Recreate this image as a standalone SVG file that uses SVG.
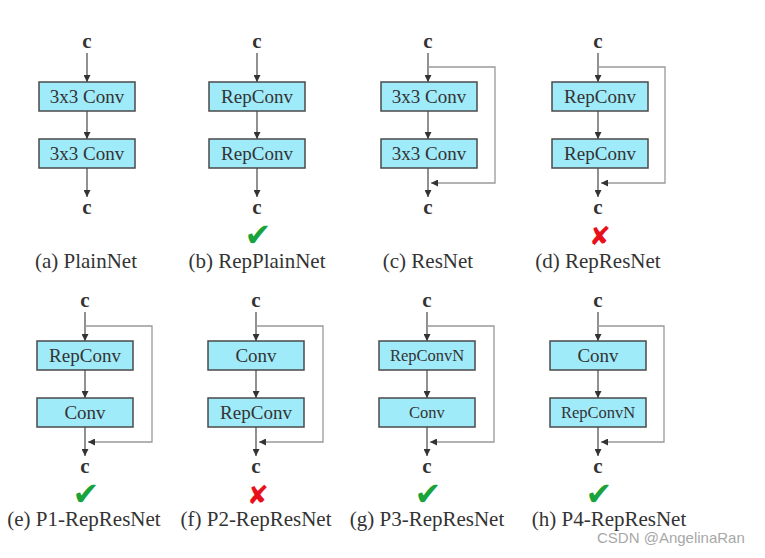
<svg xmlns="http://www.w3.org/2000/svg" width="765" height="558" viewBox="0 0 765 558">
<defs>
<style>
.bg{fill:#fff}
.box{fill:#a0ebfa;stroke:#4a4a4a;stroke-width:1.5}
.bt{font-family:"Liberation Serif","Times New Roman",serif;font-size:19px;fill:#333;text-anchor:middle}
.bs{font-size:16.5px}
.c{font-family:"Liberation Serif","Times New Roman",serif;font-size:21px;font-weight:bold;fill:#333;text-anchor:middle}
.lab{font-family:"Liberation Serif","Times New Roman",serif;font-size:21px;fill:#333;text-anchor:middle}
.ok{font-family:"DejaVu Sans",sans-serif;font-size:32px;fill:#1aa33a;text-anchor:middle}
.no{font-family:"DejaVu Sans",sans-serif;font-size:26px;fill:#e8101a;text-anchor:middle}
.m{fill:none;stroke:#555;stroke-width:1.3}
.s{fill:none;stroke:#999;stroke-width:1.3}
.wm{font-family:"Liberation Sans",Arial,sans-serif;font-size:15px;fill:#a8a8a8}
</style>
<marker id="ah" viewBox="0 0 8 8" refX="8" refY="4" markerWidth="7" markerHeight="7" markerUnits="userSpaceOnUse" orient="auto">
<path d="M0,0 L8,4 L0,8 z" fill="#333"/>
</marker>
</defs>
<rect class="bg" width="765" height="558"/>

<g id="connectors">
<line class="m" x1="87" y1="53" x2="87" y2="82" marker-end="url(#ah)"/>
<line class="m" x1="87" y1="111" x2="87" y2="139" marker-end="url(#ah)"/>
<line class="m" x1="87" y1="168" x2="87" y2="197" marker-end="url(#ah)"/>
<line class="m" x1="257" y1="53" x2="257" y2="82" marker-end="url(#ah)"/>
<line class="m" x1="257" y1="111" x2="257" y2="139" marker-end="url(#ah)"/>
<line class="m" x1="257" y1="168" x2="257" y2="197" marker-end="url(#ah)"/>
<line class="m" x1="428" y1="53" x2="428" y2="82" marker-end="url(#ah)"/>
<line class="m" x1="428" y1="111" x2="428" y2="139" marker-end="url(#ah)"/>
<line class="m" x1="428" y1="168" x2="428" y2="197" marker-end="url(#ah)"/>
<polyline class="s" points="428,67 495,67 495,183 431,183" marker-end="url(#ah)"/>
<line class="m" x1="598" y1="53" x2="598" y2="82" marker-end="url(#ah)"/>
<line class="m" x1="598" y1="111" x2="598" y2="139" marker-end="url(#ah)"/>
<line class="m" x1="598" y1="168" x2="598" y2="197" marker-end="url(#ah)"/>
<polyline class="s" points="598,67 665,67 665,183 601,183" marker-end="url(#ah)"/>
<line class="m" x1="85" y1="312" x2="85" y2="341" marker-end="url(#ah)"/>
<line class="m" x1="85" y1="370" x2="85" y2="398" marker-end="url(#ah)"/>
<line class="m" x1="85" y1="427" x2="85" y2="456" marker-end="url(#ah)"/>
<polyline class="s" points="85,326 152,326 152,442 88,442" marker-end="url(#ah)"/>
<line class="m" x1="256" y1="312" x2="256" y2="341" marker-end="url(#ah)"/>
<line class="m" x1="256" y1="370" x2="256" y2="398" marker-end="url(#ah)"/>
<line class="m" x1="256" y1="427" x2="256" y2="456" marker-end="url(#ah)"/>
<polyline class="s" points="256,326 323,326 323,442 259,442" marker-end="url(#ah)"/>
<line class="m" x1="427" y1="312" x2="427" y2="341" marker-end="url(#ah)"/>
<line class="m" x1="427" y1="370" x2="427" y2="398" marker-end="url(#ah)"/>
<line class="m" x1="427" y1="427" x2="427" y2="456" marker-end="url(#ah)"/>
<polyline class="s" points="427,326 494,326 494,442 430,442" marker-end="url(#ah)"/>
<line class="m" x1="598" y1="312" x2="598" y2="341" marker-end="url(#ah)"/>
<line class="m" x1="598" y1="370" x2="598" y2="398" marker-end="url(#ah)"/>
<line class="m" x1="598" y1="427" x2="598" y2="456" marker-end="url(#ah)"/>
<polyline class="s" points="598,326 664,326 664,442 601,442" marker-end="url(#ah)"/>
</g>

<g id="a-in"><text class="c" x="87" y="48">c</text></g>
<g id="a-box1"><rect class="box" x="39" y="82" width="96" height="29"/><text class="bt" x="87" y="103">3x3 Conv</text></g>
<g id="a-box2"><rect class="box" x="39" y="139" width="96" height="29"/><text class="bt" x="87" y="160">3x3 Conv</text></g>
<g id="a-out"><text class="c" x="87" y="214">c</text></g>
<g id="a-label"><text class="lab" x="86" y="268">(a) PlainNet</text></g>

<g id="b-in"><text class="c" x="257" y="48">c</text></g>
<g id="b-box1"><rect class="box" x="209" y="82" width="96" height="29"/><text class="bt" x="257" y="103">RepConv</text></g>
<g id="b-box2"><rect class="box" x="209" y="139" width="96" height="29"/><text class="bt" x="257" y="160">RepConv</text></g>
<g id="b-out"><text class="c" x="257" y="214">c</text></g>
<g id="b-mark"><text class="ok" x="258" y="246">✔</text></g>
<g id="b-label"><text class="lab" x="257" y="268">(b) RepPlainNet</text></g>

<g id="c-in"><text class="c" x="428" y="48">c</text></g>
<g id="c-box1"><rect class="box" x="381" y="82" width="96" height="29"/><text class="bt" x="429" y="103">3x3 Conv</text></g>
<g id="c-box2"><rect class="box" x="381" y="139" width="96" height="29"/><text class="bt" x="429" y="160">3x3 Conv</text></g>
<g id="c-out"><text class="c" x="428" y="214">c</text></g>
<g id="c-label"><text class="lab" x="428" y="268">(c) ResNet</text></g>

<g id="d-in"><text class="c" x="598" y="48">c</text></g>
<g id="d-box1"><rect class="box" x="552" y="82" width="96" height="29"/><text class="bt" x="600" y="103">RepConv</text></g>
<g id="d-box2"><rect class="box" x="552" y="139" width="96" height="29"/><text class="bt" x="600" y="160">RepConv</text></g>
<g id="d-out"><text class="c" x="598" y="214">c</text></g>
<g id="d-mark"><text class="no" x="600" y="245">✘</text></g>
<g id="d-label"><text class="lab" x="598" y="268">(d) RepResNet</text></g>

<g id="e-in"><text class="c" x="85" y="307">c</text></g>
<g id="e-box1"><rect class="box" x="37" y="341" width="96" height="29"/><text class="bt" x="85" y="362">RepConv</text></g>
<g id="e-box2"><rect class="box" x="37" y="398" width="96" height="29"/><text class="bt" x="85" y="419">Conv</text></g>
<g id="e-out"><text class="c" x="85" y="473">c</text></g>
<g id="e-mark"><text class="ok" x="86" y="505">✔</text></g>
<g id="e-label"><text class="lab" x="84" y="526">(e) P1-RepResNet</text></g>

<g id="f-in"><text class="c" x="256" y="307">c</text></g>
<g id="f-box1"><rect class="box" x="208" y="341" width="96" height="29"/><text class="bt" x="256" y="362">Conv</text></g>
<g id="f-box2"><rect class="box" x="208" y="398" width="96" height="29"/><text class="bt" x="256" y="419">RepConv</text></g>
<g id="f-out"><text class="c" x="256" y="473">c</text></g>
<g id="f-mark"><text class="no" x="258" y="504">✘</text></g>
<g id="f-label"><text class="lab" x="256" y="526">(f) P2-RepResNet</text></g>

<g id="g-in"><text class="c" x="427" y="307">c</text></g>
<g id="g-box1"><rect class="box" x="379" y="341" width="96" height="29"/><text class="bt bs" x="427" y="361">RepConvN</text></g>
<g id="g-box2"><rect class="box" x="379" y="398" width="96" height="29"/><text class="bt bs" x="427" y="418">Conv</text></g>
<g id="g-out"><text class="c" x="427" y="473">c</text></g>
<g id="g-mark"><text class="ok" x="428" y="505">✔</text></g>
<g id="g-label"><text class="lab" x="427" y="526">(g) P3-RepResNet</text></g>

<g id="h-in"><text class="c" x="598" y="307">c</text></g>
<g id="h-box1"><rect class="box" x="550" y="341" width="96" height="29"/><text class="bt" x="598" y="362">Conv</text></g>
<g id="h-box2"><rect class="box" x="550" y="398" width="96" height="29"/><text class="bt bs" x="598" y="418">RepConvN</text></g>
<g id="h-out"><text class="c" x="598" y="473">c</text></g>
<g id="h-mark"><text class="ok" x="599" y="505">✔</text></g>
<g id="h-label"><text class="lab" x="609" y="526">(h) P4-RepResNet</text></g>

<text class="wm" x="597" y="543">CSDN @AngelinaRan</text>
</svg>
